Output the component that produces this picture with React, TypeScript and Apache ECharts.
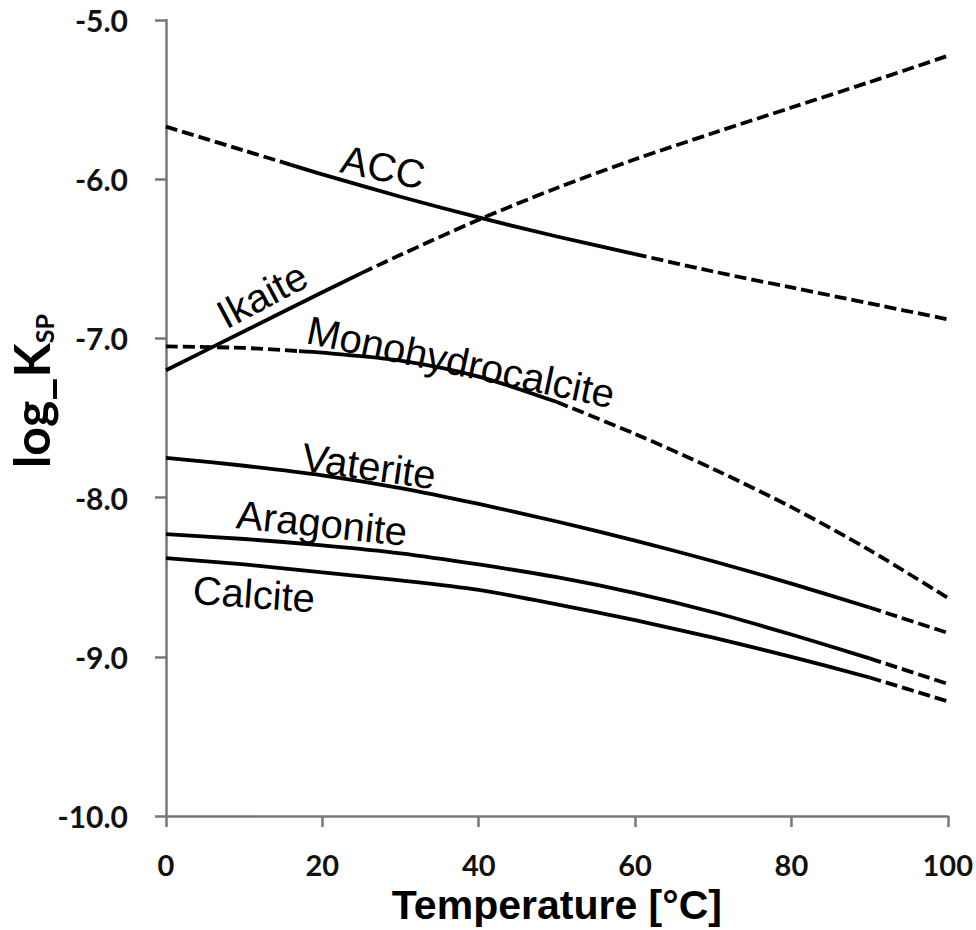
import React, { useEffect, useRef } from "react";
import * as echarts from "echarts";

// Temperature grids (°C) and log Ksp values
const gridTemp = [0, 10, 20, 30, 40, 50, 60, 70, 80, 90, 100];

const accTemp = [0, 10, 16, 20, 30, 40, 50, 60, 70, 80, 90, 100];
const accLogK = [-5.67, -5.82, -5.91, -5.97, -6.11, -6.24, -6.36, -6.47, -6.58, -6.68, -6.78, -6.88];
const accSolid = [16, 60];

const ikaiteTemp = [0, 10, 20, 25, 30, 40, 50, 60, 70, 80, 90, 100];
const ikaiteLogK = [-7.2, -6.955, -6.71, -6.59, -6.475, -6.255, -6.055, -5.875, -5.71, -5.55, -5.39, -5.225];
const ikaiteSolid = [0, 25];

const monoTemp = [0, 10, 17, 20, 30, 40, 50, 60, 70, 80, 90, 100];
const monoLogK = [-7.05, -7.06, -7.08, -7.09, -7.14, -7.24, -7.4, -7.6, -7.82, -8.06, -8.33, -8.63];
const monoSolid = [17, 50];

const vateriteLogK = [-7.75, -7.8, -7.86, -7.94, -8.04, -8.15, -8.27, -8.4, -8.54, -8.69, -8.85];
const aragoniteLogK = [-8.23, -8.26, -8.3, -8.35, -8.42, -8.5, -8.6, -8.72, -8.86, -9.01, -9.17];
const calciteLogK = [-8.38, -8.42, -8.47, -8.52, -8.58, -8.67, -8.77, -8.88, -9.0, -9.13, -9.28];
const carbonateSolid = [0, 90];

const xTicks = [0, 20, 40, 60, 80, 100];
const yTicks = [-10, -9, -8, -7, -6, -5];

type Curve = { name: string; t: number[]; v: number[]; solid: number[] };

const curves: Curve[] = [
  { name: "ACC", t: accTemp, v: accLogK, solid: accSolid },
  { name: "Ikaite", t: ikaiteTemp, v: ikaiteLogK, solid: ikaiteSolid },
  { name: "Monohydrocalcite", t: monoTemp, v: monoLogK, solid: monoSolid },
  { name: "Vaterite", t: gridTemp, v: vateriteLogK, solid: carbonateSolid },
  { name: "Aragonite", t: gridTemp, v: aragoniteLogK, solid: carbonateSolid },
  { name: "Calcite", t: gridTemp, v: calciteLogK, solid: carbonateSolid },
];

const deg = (d: number) => (d * Math.PI) / 180;

function buildSeries() {
  const out: any[] = [];
  curves.forEach((c) => {
    const pts = c.t.map((t, i) => [t, c.v[i]]);
    const [a, b] = c.solid;
    const segs: { data: number[][]; dashed: boolean }[] = [
      { data: pts.filter((p) => p[0] <= a), dashed: true },
      { data: pts.filter((p) => p[0] >= a && p[0] <= b), dashed: false },
      { data: pts.filter((p) => p[0] >= b), dashed: true },
    ];
    segs.forEach((s, k) => {
      if (s.data.length < 2) return;
      out.push({
        name: c.name + "-" + k,
        type: "line",
        data: s.data,
        smooth: 0.3,
        symbol: "none",
        silent: true,
        lineStyle: {
          color: "#000",
          width: 3.8,
          type: s.dashed ? [12, 5] : "solid",
          cap: "butt",
        },
      });
    });
  });
  return out;
}

const labelFont = "Liberation Sans, Arial, sans-serif";
const axisFont = "Lato, 'Open Sans', sans-serif";

function label(text: string, x: number, y: number, rotDeg: number) {
  return {
    type: "text",
    x,
    y,
    rotation: deg(rotDeg),
    silent: true,
    style: {
      text,
      fontSize: 40,
      fontFamily: labelFont,
      fill: "#000",
      align: "center",
      verticalAlign: "middle",
      textAlign: "center",
      textVerticalAlign: "middle",
    },
  };
}

export default function App() {
  const ref = useRef<HTMLDivElement>(null);
  useEffect(() => {
    if (!ref.current) return;
    const chart = echarts.init(ref.current, undefined, { renderer: "svg" });
    const axisColor = "#777";
    chart.setOption({
      animation: false,
      backgroundColor: "#fff",
      grid: { left: 166, right: 26, top: 20, bottom: 112, containLabel: false },
      xAxis: {
        type: "value",
        min: 0,
        max: 100,
        interval: 20,
        name: "Temperature [°C]",
        nameLocation: "middle",
        nameGap: 68,
        nameMoveOverlap: false,
        nameTextStyle: {
          fontSize: 41,
          lineHeight: 41,
          fontWeight: "bold",
          fontFamily: "Liberation Sans, Arial, sans-serif",
          color: "#000",
        },
        axisLine: { show: true, lineStyle: { color: axisColor, width: 2.5 } },
        axisTick: { show: true, inside: false, length: 11, lineStyle: { color: axisColor, width: 2.5 } },
        splitLine: { show: false },
        axisLabel: {
          margin: 34,
          fontSize: 29,
          lineHeight: 29,
          fontWeight: "bold",
          fontFamily: axisFont,
          color: "#111",
          customValues: xTicks,
          formatter: (v: number) => String(v),
        },
      },
      yAxis: {
        type: "value",
        min: -10,
        max: -5,
        interval: 1,
        axisLine: { show: true, lineStyle: { color: axisColor, width: 2.5 } },
        axisTick: { show: true, inside: false, length: 11, lineStyle: { color: axisColor, width: 2.5 } },
        splitLine: { show: false },
        axisLabel: {
          margin: 38,
          fontSize: 30,
          lineHeight: 30,
          fontWeight: "bold",
          fontFamily: axisFont,
          color: "#111",
          customValues: yTicks,
          formatter: (v: number) => v.toFixed(1),
        },
      },
      graphic: [
        label("ACC", 383, 167, -12),
        label("Ikaite", 262, 295, 28),
        label("Monohydrocalcite", 461, 362, -12),
        label("Vaterite", 369, 466, -8),
        label("Aragonite", 322, 523, -6),
        label("Calcite", 254, 594, -4),
        {
          type: "text",
          x: 31,
          y: 391,
          rotation: Math.PI / 2,
          silent: true,
          style: {
            text: "{a|log_K}{b|SP}",
            align: "center",
            verticalAlign: "middle",
            textAlign: "center",
            textVerticalAlign: "middle",
            fill: "#000",
            rich: {
              a: { fontSize: 50, fontWeight: "bold", fontFamily: axisFont, fill: "#000", lineHeight: 50 },
              b: { fontSize: 25, fontWeight: "bold", fontFamily: axisFont, fill: "#000", verticalAlign: "bottom", lineHeight: 50 },
            },
          },
        },
      ],
      series: buildSeries(),
    });
    return () => chart.dispose();
  }, []);
  return (
    <div
      ref={ref}
      style={{ position: "absolute", left: 0, top: 0, width: 976, height: 930, background: "#fff" }}
    />
  );
}
